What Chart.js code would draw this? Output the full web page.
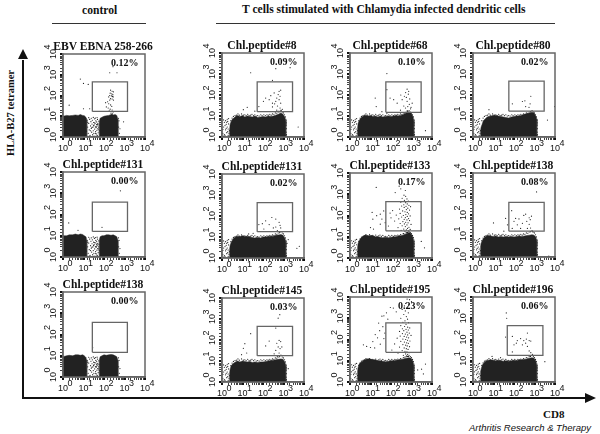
<!DOCTYPE html>
<html>
<head>
<meta charset="utf-8">
<script src="https://cdn.jsdelivr.net/npm/chart.js@4/dist/chart.umd.min.js"></script>
<style>
body { margin: 0; background: #fff; }
#page { position: relative; width: 600px; height: 434px; overflow: hidden; color: #111; }
#page canvas, #page svg, .txt { position: absolute; }
.txt { font: bold 11.6px "Liberation Serif", serif; white-space: nowrap; }
.title { transform: translateX(-50%); }
</style>
</head>
<body>
<div id="page">
  <svg width="600" height="434" style="left:0;top:0">
    <path d="M52 23.5H146M216 23.5H555" stroke="#333" fill="none"/>
    <path d="M23 60V398H587" stroke="#111" stroke-width="2" fill="none"/>
    <path d="M23 49L18 59H28ZM596 398L585 393V403Z" fill="#111"/>
  </svg>
  <div class="txt" style="left:82px;top:4px">control</div>
  <div class="txt" style="left:242px;top:3px">T cells stimulated with Chlamydia infected dendritic cells</div>
  <div class="txt" style="left:10px;top:113px;font-size:10.5px;transform:translate(-50%,-50%) rotate(-90deg)">HLA-B27 tetramer</div>
  <div class="txt" style="left:543px;top:408px;font-size:11px">CD8</div>
  <div class="txt" style="left:469px;top:422px;font:italic 9.5px 'Liberation Sans',sans-serif">Arthritis Research &amp; Therapy</div>
</div>
<script>
const tickValues = [1, 10, 100, 1000, 10000];
const tickExponents = ['0', '1', '2', '3', '4'];

const panelTitles = ['EBV EBNA 258-266', 'Chl.peptide#8', 'Chl.peptide#68', 'Chl.peptide#80',
    'Chl.peptide#131', 'Chl.peptide#131', 'Chl.peptide#133', 'Chl.peptide#138',
    'Chl.peptide#138', 'Chl.peptide#145', 'Chl.peptide#195', 'Chl.peptide#196'];
const panelPercents = ['0.12%', '0.09%', '0.10%', '0.02%', '0.00%', '0.02%', '0.17%', '0.08%', '0.00%', '0.03%', '0.23%', '0.06%'];

// gate limits for each panel
const gateXLow = [27, 52, 56, 56, 27, 52, 56, 56, 27, 52, 56, 47];
const gateXHigh = [1400, 2760, 2950, 2960, 1400, 2760, 2950, 2960, 1380, 2760, 2950, 2570];
const gateYLow = [17, 16, 15, 17, 16, 18, 19, 17, 14.5, 18, 25, 18];
const gateYHigh = [457, 426, 420, 457, 380, 430, 445, 400, 370, 450, 600, 450];

// top edge of the dense populations
const leftLobeX = [1, 1.5, 2, 3, 4, 5.5, 7, 9, 11, 13, 14.5];
const rightLobeX = [58, 65, 80, 100, 130, 170, 220, 280, 350, 420, 480];
const leftLobeTops = {
    0: [10, 11, 10.5, 11, 11.5, 11, 12, 11, 10.5, 9, 7],
    4: [10, 10, 11, 11, 12, 11, 12, 11.5, 10, 9, 6],
    8: [9, 10, 10.5, 10, 11, 11, 10.5, 11, 10, 8, 6]
};
const rightLobeTops = {
    0: [5, 8, 9, 10, 10.5, 11, 12, 11.5, 12, 11, 7],
    4: [6, 9, 10, 10, 11, 11, 10.5, 11, 10, 9, 6],
    8: [6, 9, 10, 11, 10.5, 11, 11.5, 11, 10, 9, 6]
};
const blobX = [2.3, 2.5, 2.8, 3.2, 3.8, 4.6, 5.6, 7.5, 10, 13, 17, 23, 30, 40, 55, 75, 100, 135, 180, 240, 320, 420, 560, 750, 950, 1150, 1300];
const blobTops = {
    1: [2, 4, 5.5, 7, 8, 9.5, 10.5, 9.5, 10.5, 9, 10, 9.5, 9, 10, 8.5, 9, 9.5, 9, 10, 9.5, 10, 11, 12, 14, 12, 9, 6],
    2: [2.5, 4.5, 6, 7.5, 9, 10, 11, 10, 10.5, 9.5, 10, 9, 10, 9, 9.5, 10, 9.5, 10, 10.5, 10, 11, 12, 14, 16, 14, 10, 6],
    3: [2, 3, 4, 6, 7, 8.5, 9.5, 10, 11, 10.5, 10, 9.5, 9, 8.5, 8, 9, 9.5, 10, 10, 11, 12, 13, 14, 15, 14, 10, 7],
    5: [2.5, 4, 5.5, 7, 9, 10, 11, 10.5, 11.5, 10.5, 11, 10, 9.5, 9, 9.5, 9, 10, 10, 10.5, 11, 11, 12, 12.5, 13, 12, 9, 6],
    6: [3, 5, 6.5, 8, 9.5, 11, 12, 11, 11.5, 11, 10, 10, 9.5, 9, 9.5, 9, 9.5, 10, 10, 11, 11, 12, 14, 16, 14, 10, 6],
    7: [3, 4.5, 6, 7.5, 9, 10, 10.5, 10, 9.5, 10, 9, 9.5, 9, 9.5, 9, 9.5, 9, 9.5, 10, 9.5, 10, 10.5, 11, 11.5, 11, 9, 6],
    9: [2.5, 4, 6, 7, 8, 9, 10, 9, 10, 9.5, 9, 9.5, 8.5, 9, 8.5, 9, 9, 9.5, 10, 10.5, 11, 11.5, 12, 12.5, 12, 9, 6],
    10: [3, 5, 7, 8, 9, 10.5, 11.5, 12.5, 12, 11, 11, 10, 10, 9.5, 9, 9.5, 10, 10, 10.5, 11, 11.5, 12, 13, 14, 13, 10, 6],
    11: [3, 4, 6, 7.5, 9, 10, 10.5, 11, 10.5, 10, 10.5, 10, 9.5, 10, 9.5, 10, 10.5, 10, 11, 11, 11.5, 12, 13, 14, 13, 10, 6]
};

// thin events between the two control populations
const midEvents = [[15,6],[16,3],[17,1.5],[18,4.5],[19,2.2],[20,7],[21,1.2],[22,3.4],[23,5.5],[24,2.6],[25,1.7],[26,4.2],[27,6.4],[28,1.3],[29,3],[30,2],
    [31,5],[32,1.5],[33,3.8],[34,7.5],[35,2.4],[36,1.1],[37,4.6],[38,3.1],[39,1.8],[40,6],[41,2.8],[42,1.4],[43,4],[44,5.3],[45,2.1],[46,3.4],[47,1.2],[48,7],
    [49,2.5],[50,4.4],[52,1.6],[54,3],[56,5.8],[58,2],[13,8],[18,8.5],[24,8],[30,8.8],[38,8.2],[46,8.6],[14,1.9],[16,5],[19,1.1],[22,2],[26,2.9],[29,1.1],
    [31,3.5],[35,4.8],[38,1.5],[42,3.1],[44,1.1],[48,4.1],[53,2.4],[57,3.8],[520,3],[540,6],[560,1.5],[510,8],[600,2.5]];
// low events left of the main population
const lowEvents = [[1.1,1.5],[1.2,3],[1.3,5],[1.4,1.2],[1.5,2.2],[1.6,4],[1.2,6.5],[1.7,1.6],[1.8,3],[1.9,5.5],[2,1.2],[2,2.4],[2.1,4.2],[1.1,2.3],[1.4,3.5],
    [1.6,2.6],[1.3,1.3],[1.9,1.8],[1.5,6],[2.1,7.5],[1.8,7],[2.2,1.5],[1.7,5],[1.2,1.1],[2.3,2]];
// fuzz along the top and right of the main population
const edgeEvents = [[2.7,6],[3.1,8],[3.6,9.5],[4.3,10.5],[5,11],[6,12.5],[7,11],[9,12.5],[11,11],[13,11.5],[15,10.5],[18,12],[21,10.5],[25,11],[29,12],[34,10.5],[40,11.5],[47,10],[55,10.5],
    [65,10],[78,11.5],[90,10.5],[110,11.5],[130,10.5],[155,11.5],[180,11],[215,12],[250,11],[290,12.5],[340,12],[400,14],[470,13.5],[550,15.5],[640,16],[760,18],[880,15.5],[1000,14],[1120,11.5],
    [1240,9],[1320,7],[1350,5],[1340,3.5],[1370,2.5],[1345,1.7],[1335,6],[1390,1.3],[1320,1.2],[1360,4.2]];

const events = {
    0: [[210,180],[250,160],[290,150],[200,130],[240,120],[270,110],[190,100],[230,95],[260,90],[280,85],[170,85],[210,70],[250,68],[190,60],[290,60],[150,50],[120,45],
        [170,40],[210,35],[240,30],[130,28],[160,25],[200,22],[250,20],[180,18],[280,16],[220,14],[260,13],[240,12],[275,2450],[190,1250],[430,1250],[7,620],[10,380],[17,340],[2,34],[10,23],[20,23],[900,5.4]],
    1: [[135,71],[200,60],[105,50],[290,41],[610,150],[730,170],[550,105],[680,87],[470,71],[420,50],[610,60],[370,38],[730,41],[510,30],[680,24],[470,19],[290,27],[890,21],[63,28],[350,125],[240,93],
        [25,1150],[420,1800],[2100,2000],[290,500],[5200,3],[17,26],[11,20],[40,17],[600,17],[760,19]],
    2: [[63,180],[610,190],[730,150],[450,87],[560,77],[350,60],[610,50],[820,65],[420,30],[510,24],[660,28],[290,19],[200,41],[135,60],[90,71],[17,71],[19,28],[63,1050],[300,100],[1080,41],[950,26],[36,16],[63,13],
        [700,110],[520,130],[780,36],[900,22],[620,18],[4800,2]],
    3: [[83,38],[257,49],[340,53],[660,87],[610,38],[540,26],[370,28],[6,20],[9500,28],[4300,6.4]],
    4: [[630,1300],[80,25],[1.9,40],[5.4,18]],
    5: [[93,43],[135,59],[270,85],[420,71],[200,39],[610,50],[680,36],[420,30],[730,27],[320,27],[110,24],[63,39],[1700,7.5],[5900,3.6],[4500,2.9],[33,15],[730,18],[500,20],[20,14],[1500,5]],
    6: [[12,140],[13,67],[20,98],[30,115],[36,68],[44,165],[19,2100],[10,27],[14,23],[30,39],[52,46],[160,1200],[300,1800],[250,2400],[500,1500],[430,900],[520,800],[350,650],[600,600],[450,520],[700,480],
        [300,420],[520,400],[620,350],[420,320],[750,300],[330,280],[540,270],[900,260],[440,240],[660,220],[260,200],[560,190],[800,180],[120,170],[370,165],[480,150],[620,140],[90,130],[280,125],[720,120],[530,110],
        [180,105],[400,100],[860,95],[620,90],[330,85],[500,80],[100,78],[720,72],[240,70],[440,66],[600,62],[800,58],[150,55],[380,52],[520,48],[680,45],[280,42],[450,40],[950,38],[600,36],[350,33],[75,32],[500,30],
        [750,28],[220,27],[640,25],[420,23],[860,22],[560,21],[310,20],[700,19],[480,18],[600,16],[820,15],[400,14],[650,13],[3000,6],[4300,3]],
    7: [[120,69],[175,65],[77,160],[370,110],[550,74],[710,88],[420,50],[257,40],[145,34],[100,50],[550,36],[450,23],[210,23],[82,23],[1260,1260],[10,42],[39,69],[48,34],[32,17],[800,16],[5000,1.1],[620,60],[300,95],[640,24]],
    8: [[28,24]],
    9: [[660,1600],[550,1100],[420,370],[25,200],[13,67],[11,40],[200,89],[135,52],[610,95],[730,84],[470,70],[550,47],[680,39],[420,32],[830,47],[350,22],[610,24],[1700,4.3],[9,20],[16,24],[750,19],[500,16]],
    10: [[93,3200],[36,1250],[25,590],[17,170],[13,80],[4.5,56],[6.5,47],[45,1300],[60,1800],[130,3000],[180,2000],[70,900],[40,400],[28,260],[22,120],[10,42],[16,40],[30,60],[45,110],[50,200],
        [610,8000],[800,7500],[1000,6000],[520,5000],[750,4500],[450,3800],[620,3300],[350,2600],[500,2200],[700,1800],[420,1500],[560,1200],[300,1000],[640,900],[480,760],[380,650],[720,620],[540,520],[300,450],
        [460,410],[650,380],[820,350],[360,320],[540,300],[700,280],[420,260],[260,240],[600,220],[780,200],[360,190],[500,180],[650,165],[950,155],[280,145],[440,140],[580,130],[720,120],[200,115],[380,105],[520,100],
        [640,92],[840,85],[300,82],[450,76],[580,70],[700,66],[150,62],[380,58],[520,54],[620,50],[800,46],[260,44],[440,40],[560,37],[680,34],[110,32],[350,30],[480,28],[600,26],[760,24],[220,23],[520,21],[650,20],
        [400,18],[580,17],[720,16],[480,15],[3100,4],[2000,3.7],[4800,7],[3800,2.4]],
    11: [[42,1780],[44,1000],[39,130],[100,56],[130,67],[83,140],[210,110],[450,200],[550,89],[660,84],[370,67],[257,56],[450,47],[300,89],[145,89],[550,29],[800,20],[660,24],[83,26],[3200,9],[22,14],[8.5,16],[750,18],[400,105]]
};

// layout of the panels on the page
const panelLeft = [63, 222, 350, 473, 63, 222, 350, 473, 63, 222, 350, 473];
const panelTop = [54, 53, 53, 53, 172, 174, 173, 173, 292, 298, 297, 297];
const panelHeight = [83, 84, 84, 84, 85, 84, 85, 84, 85, 84, 85, 85];
const panelWidth = 82, marginLeft = 30, marginTop = 10, marginRight = 12, marginBottom = 22;
const ink = '#222', boxGrey = '#666';

function edgePoints(xs, tops) {
    let pts = xs.map((x, i) => ({ x: x, y: tops[i] }));
    pts.unshift({ x: xs[0], y: 1 });
    pts.push({ x: xs[xs.length - 1], y: 1 });
    return pts;
}

function toPoints(list) {
    return list.map(p => ({ x: p[0], y: p[1] }));
}

function edgeDataset(xs, tops) {
    return { data: edgePoints(xs, tops), showLine: true, fill: 'origin', backgroundColor: ink, borderColor: ink, borderWidth: 0.5, pointRadius: 0, tension: 0 };
}

function dotDataset(list) {
    return { data: toPoints(list), showLine: false, pointRadius: 0.6, pointBorderWidth: 0, pointBackgroundColor: ink };
}

// frame around the plot and the exponents next to the tick labels
const framePlugin = {
    id: 'frame',
    afterDraw(chart) {
        let c = chart.ctx, a = chart.chartArea;
        c.save();
        c.strokeStyle = boxGrey;
        c.lineWidth = 1.5;
        c.strokeRect(a.left, a.top, a.right - a.left, a.bottom - a.top);
        c.fillStyle = '#111';
        c.font = '9px "Liberation Sans"';
        c.textAlign = 'center';
        c.textBaseline = 'middle';
        tickValues.forEach((v, i) => {
            c.fillText(tickExponents[i], chart.scales.x.getPixelForValue(v) + 7, a.bottom + 7);
            c.save();
            c.translate(a.left - 15, chart.scales.y.getPixelForValue(v) - 7);
            c.rotate(-Math.PI / 2);
            c.fillText(tickExponents[i], 0, 0);
            c.restore();
        });
        c.restore();
    }
};

function axisOptions(isY) {
    return {
        type: 'logarithmic',
        min: 1,
        max: 10000,
        afterFit(scale) {
            if (isY) { scale.width = marginLeft; } else { scale.height = marginBottom; }
        },
        border: { color: boxGrey, width: 1.5 },
        grid: {
            drawOnChartArea: false,
            tickLength: 3,
            color: '#111',
            lineWidth: ctx => (ctx.tick && tickValues.includes(ctx.tick.value)) ? 2 : 0.8
        },
        ticks: {
            autoSkip: false,
            minRotation: isY ? 90 : 0,
            maxRotation: isY ? 90 : 0,
            crossAlign: isY ? 'center' : 'near',
            padding: isY ? 1 : 3,
            color: '#111',
            font: { family: 'Liberation Sans', size: 9 },
            callback: v => tickValues.includes(v) ? '10' : ''
        }
    };
}

function drawPanel(i) {
    let page = document.getElementById('page');
    let canvas = document.createElement('canvas');
    canvas.width = marginLeft + panelWidth + marginRight;
    canvas.height = marginTop + panelHeight[i] + marginBottom;
    canvas.style.left = (panelLeft[i] - marginLeft) + 'px';
    canvas.style.top = (panelTop[i] - marginTop) + 'px';
    page.appendChild(canvas);

    let datasets = [{
        data: toPoints([[gateXLow[i], gateYLow[i]], [gateXHigh[i], gateYLow[i]], [gateXHigh[i], gateYHigh[i]], [gateXLow[i], gateYHigh[i]], [gateXLow[i], gateYLow[i]]]),
        showLine: true, borderColor: boxGrey, borderWidth: 1.3, pointRadius: 0, tension: 0, fill: false
    }, dotDataset(events[i])];
    if (blobTops[i]) {
        datasets.push(dotDataset(lowEvents), dotDataset(edgeEvents), edgeDataset(blobX, blobTops[i]));
    } else {
        datasets.push(dotDataset(midEvents), edgeDataset(leftLobeX, leftLobeTops[i]), edgeDataset(rightLobeX, rightLobeTops[i]));
    }

    new Chart(canvas, {
        type: 'scatter',
        data: { datasets: datasets },
        options: {
            responsive: false,
            animation: false,
            layout: { padding: { top: marginTop, right: marginRight, left: 0, bottom: 0 } },
            plugins: { legend: { display: false }, tooltip: { enabled: false } },
            scales: { x: axisOptions(false), y: axisOptions(true) }
        },
        plugins: [framePlugin]
    });

    let title = document.createElement('div');
    title.className = 'txt title';
    title.textContent = panelTitles[i];
    title.style.left = (panelLeft[i] + panelWidth / 2 - 1) + 'px';
    title.style.top = (panelTop[i] - 14) + 'px';
    page.appendChild(title);

    let pct = document.createElement('div');
    pct.className = 'txt';
    pct.style.fontSize = '10px';
    pct.textContent = panelPercents[i];
    pct.style.left = (panelLeft[i] + panelWidth - 34) + 'px';
    pct.style.top = (panelTop[i] + 3) + 'px';
    page.appendChild(pct);
}

panelTitles.forEach((t, i) => drawPanel(i));
</script>
</body>
</html>
